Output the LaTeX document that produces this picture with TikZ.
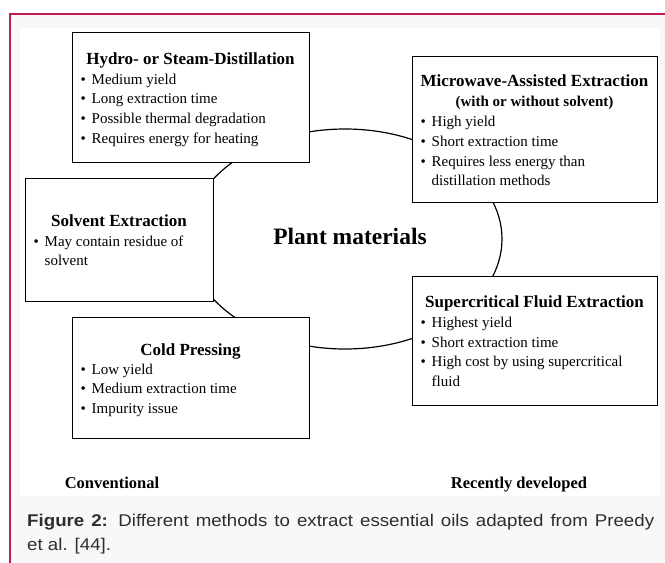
\documentclass[tikz,border=0pt]{standalone}
\usepackage{fontspec}
\setmainfont{Liberation Serif}
\newfontfamily\capfont[FakeStretch=1.1]{Liberation Sans}
\usetikzlibrary{shapes.geometric}
\definecolor{framecol}{HTML}{BE1E55}
\definecolor{outerbg}{HTML}{FAF7F8}
\definecolor{captxt}{HTML}{2E2E2E}
\tikzset{
  methodbox/.style={draw=black, line width=1.3pt, fill=white, inner sep=0pt, anchor=north west},
  ttl/.style={anchor=base, inner sep=0pt, font=\fontsize{17}{20}\selectfont\bfseries},
  subttl/.style={anchor=base, inner sep=0pt, font=\fontsize{15}{18}\selectfont\bfseries},
  bl/.style={anchor=base west, inner sep=0pt, font=\fontsize{15}{18}\selectfont},
  side/.style={anchor=base, inner sep=0pt, font=\fontsize{16.5}{20}\selectfont\bfseries},
}
\newcommand{\bul}{\makebox[11pt][l]{\textbullet}}
\begin{document}
\begin{tikzpicture}[x=1pt,y=-1pt]
\useasboundingbox (0,0) rectangle (665,563);
% frame and panels
\fill[white] (0,0) rectangle (665,563);
\fill[outerbg] (10,14) rectangle (665,563);
\draw[framecol, line width=2pt] (10,563) -- (10,14) -- (665,14);
\fill[white] (20,28) rectangle (660,496);

% ring
\node[draw, ellipse, line width=1.2pt, minimum width=314pt, minimum height=220pt, inner sep=0pt] (ring) at (345,239) {};
\node[anchor=base, inner sep=0pt, font=\fontsize{23.5}{26}\selectfont\bfseries] (plant) at (350,244) {Plant materials};

% Hydro- or Steam-Distillation
\node[methodbox, minimum width=237pt, minimum height=130pt] (hydro) at (72,32) {};
\node[ttl] (hydroT) at (190.5,64) {Hydro- or Steam-Distillation};
\node[bl] (hydro1) at (80.5,84) {\bul Medium yield};
\node[bl] (hydro2) at (80.5,103.8) {\bul Long extraction time};
\node[bl] (hydro3) at (80.5,123.6) {\bul Possible thermal degradation};
\node[bl] (hydro4) at (80.5,143.4) {\bul Requires energy for heating};

% Microwave-Assisted Extraction
\node[methodbox, minimum width=245pt, minimum height=146pt] (micro) at (412,56) {};
\node[ttl] (microT) at (534.5,86.5) {Microwave-Assisted Extraction};
\node[subttl] (microS) at (534.5,106) {(with or without solvent)};
\node[bl] (micro1) at (420.5,126.5) {\bul High yield};
\node[bl] (micro2) at (420.5,146.3) {\bul Short extraction time};
\node[bl] (micro3) at (420.5,166.1) {\bul Requires less energy than};
\node[bl] (micro3b) at (431.5,185.9) {distillation methods};

% Solvent Extraction
\node[methodbox, minimum width=188pt, minimum height=123pt] (solv) at (25,178) {};
\node[ttl] (solvT) at (119,226.5) {Solvent Extraction};
\node[bl] (solv1) at (33.5,246) {\bul May contain residue of};
\node[bl] (solv1b) at (44.5,265.7) {solvent};

% Cold Pressing
\node[methodbox, minimum width=237pt, minimum height=121pt] (cold) at (72,317) {};
\node[ttl] (coldT) at (190.5,355) {Cold Pressing};
\node[bl] (cold1) at (80.5,374) {\bul Low yield};
\node[bl] (cold2) at (80.5,393.8) {\bul Medium extraction time};
\node[bl] (cold3) at (80.5,413.6) {\bul Impurity issue};

% Supercritical Fluid Extraction
\node[methodbox, minimum width=245pt, minimum height=129pt] (scf) at (412,276) {};
\node[ttl] (scfT) at (534.5,307.3) {Supercritical Fluid Extraction};
\node[bl] (scf1) at (420.5,327.3) {\bul Highest yield};
\node[bl] (scf2) at (420.5,347.1) {\bul Short extraction time};
\node[bl] (scf3) at (420.5,366.9) {\bul High cost by using supercritical};
\node[bl] (scf3b) at (431.5,386.7) {fluid};

% side labels
\node[side] (conv) at (112,488) {Conventional};
\node[side] (recent) at (519,488) {Recently developed};

% caption
\node[anchor=north west, inner sep=0pt, text width=627pt, align=justify, text=captxt,
      font=\capfont\fontsize{17}{24}\selectfont] (cap) at (27,514.3)
  {\noindent\textbf{Figure 2:} Different methods to extract essential oils adapted from Preedy\linebreak et al. [44].};
\end{tikzpicture}
\end{document}
